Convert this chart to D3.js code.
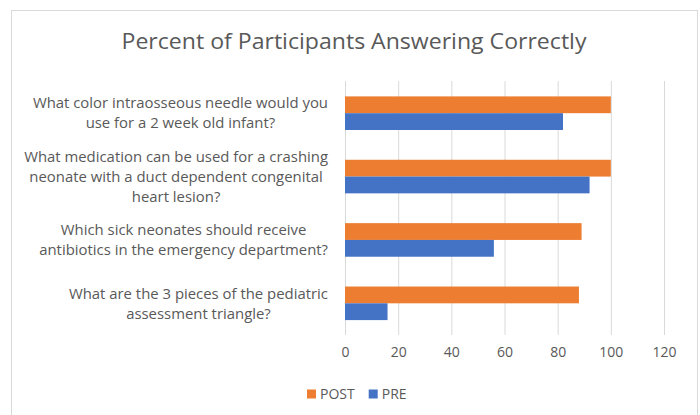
<!DOCTYPE html>
<html><head><meta charset="utf-8">
<script src="https://cdn.jsdelivr.net/npm/d3@7"></script>
<style>body{margin:0;background:#fff;} svg{display:block;font-family:"Open Sans",sans-serif;}</style>
</head><body>
<svg id="c" width="700" height="415"></svg>
<script>
const categories = [
  ["What color intraosseous needle would you","use for a 2 week old infant?"],
  ["What medication can be used for a crashing","neonate with a duct dependent congenital","heart lesion?"],
  ["Which sick neonates should receive","antibiotics in the emergency department?"],
  ["What are the 3 pieces of the pediatric","assessment triangle?"]
];
const seriesNames = ["POST","PRE"];
const postValues = [100, 100, 89, 88];
const preValues = [82, 92, 56, 16];
const xTicks = [0,20,40,60,80,100,120];
const colors = {POST:"#ED7D31", PRE:"#4472C4"};
const title = "Percent of Participants Answering Correctly";

const svg = d3.select("#c");
const textColor = "#595959";
svg.append("rect").attr("x",11.5).attr("y",10.5).attr("width",686).attr("height",420)
  .attr("fill","#fff").attr("stroke","#d9d9d9").attr("stroke-width",1);

const tt = svg.append("text").attr("x",354).attr("y",49).attr("text-anchor","middle")
  .attr("font-size",22.5).attr("fill",textColor).text(title);
tt.attr("textLength", 465).attr("lengthAdjust","spacingAndGlyphs");

const x = d3.scaleLinear().domain([0,120]).range([345,664]);
const idx = d3.range(categories.length);
const y = d3.scaleBand().domain(idx).range([81.5,335]).paddingInner(0.47).paddingOuter(0.235);
const y1 = d3.scaleBand().domain(seriesNames).range([0,y.bandwidth()]);

// gridlines
svg.append("g").selectAll("line").data(xTicks).join("line")
  .attr("x1",d=>x(d)+0.5).attr("x2",d=>x(d)+0.5).attr("y1",81).attr("y2",335)
  .attr("stroke","#d9d9d9").attr("stroke-width",1);

// axis labels
const xAxis = d3.axisBottom(x).tickValues(xTicks).tickSize(0).tickPadding(0);
const ax = svg.append("g").attr("transform","translate(0,351)").call(xAxis);
ax.select(".domain").remove();
ax.selectAll("text").attr("font-size",14).attr("fill",textColor).attr("font-family","Open Sans").attr("dy","0.45em");

const data = idx.map(i=>({i, POST:postValues[i], PRE:preValues[i]}));
const g = svg.append("g");
g.selectAll("g").data(data).join("g")
  .attr("transform",d=>`translate(0,${y(d.i)})`)
  .selectAll("rect").data(d=>seriesNames.map(s=>({s, v:d[s]}))).join("rect")
  .attr("x",x(0)).attr("y",d=>y1(d.s)).attr("width",d=>x(d.v)-x(0)).attr("height",y1.bandwidth())
  .attr("fill",d=>colors[d.s]);

// category labels
const lineH = 20;
categories.forEach((lines,i)=>{
  const cy = y(i)+y.bandwidth()/2;
  const tg = svg.append("g");
  const texts = lines.map((l,k)=>tg.append("text").attr("font-size",14.9).attr("fill",textColor)
    .attr("text-anchor","middle").attr("dy","0.35em")
    .attr("y",cy + (k-(lines.length-1)/2)*lineH).text(l));
  const maxW = d3.max(texts,t=>t.node().getComputedTextLength());
  texts.forEach(t=>t.attr("x",328-maxW/2));
});

// legend
const leg = svg.append("g").attr("transform","translate(307,394)");
let lx = 0;
seriesNames.forEach(s=>{
  leg.append("rect").attr("x",lx).attr("y",-4.5).attr("width",9).attr("height",9).attr("fill",colors[s]);
  const t = leg.append("text").attr("x",lx+13).attr("dy","0.35em").attr("font-size",14)
    .attr("fill",textColor).text(s);
  lx += 13 + t.node().getComputedTextLength() + 14;
});
</script>
</body></html>
